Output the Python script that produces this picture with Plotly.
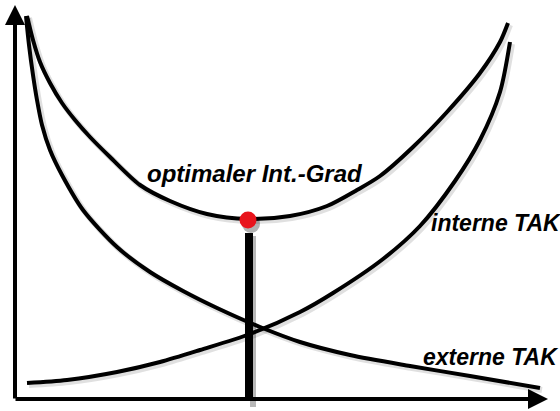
import plotly.graph_objects as go

# ---- data (arbitrary units: Integrationsgrad vs. Kosten) ----
gesamt_x = [12, 18, 25, 35, 47, 60, 75, 95, 125, 155, 192, 233, 275, 312, 342, 365, 398, 432, 465, 485, 493]
gesamt_y = [383, 359, 337, 316, 296, 279, 262, 242, 214, 198, 185, 180, 183, 193, 209, 223, 252, 287, 326, 357, 376]

extern_x = [11, 14, 18, 22, 27, 35, 47, 68, 102, 135, 168, 202, 245, 285, 335, 395, 455, 525]
extern_y = [383, 354, 324, 299, 274, 249, 224, 189, 152, 127, 108, 91, 72, 57, 44, 33, 23, 11]

intern_x = [12, 52, 102, 145, 185, 235, 285, 318, 368, 405, 440, 465, 485, 495]
intern_y = [16, 19, 27, 37, 49, 65, 87, 106, 140, 173, 218, 259, 307, 357]

optimum_x = [233]
optimum_y = [179]
optimum_linie_y = [166, -2]

x_achse = [0, 533]
y_achse = [0, 394]

labels = ["optimaler Int.-Grad", "interne TAK", "externe TAK"]
label_x = [240, 414, 406]
label_y = [226, 176, 42]
label_size = [24, 23, 23]

fig = go.Figure()

shadow = "rgba(0,0,0,0.12)"
curves = [(gesamt_x, gesamt_y), (extern_x, extern_y), (intern_x, intern_y)]
for xs, ys in curves:
    fig.add_trace(go.Scatter(x=[v + 2 for v in xs], y=[v - 2 for v in ys], mode="lines",
                             line=dict(color=shadow, width=6, shape="spline", smoothing=0.8),
                             hoverinfo="skip"))
for xs, ys in curves:
    fig.add_trace(go.Scatter(x=xs, y=ys, mode="lines",
                             line=dict(color="black", width=4, shape="spline", smoothing=0.8)))

# vertical line at optimum with shadow
fig.add_trace(go.Scatter(x=[optimum_x[0] + 5] * 2, y=[optimum_linie_y[0] - 3, optimum_linie_y[1] - 6],
                         mode="lines", line=dict(color="rgba(0,0,0,0.28)", width=6), hoverinfo="skip"))
fig.add_trace(go.Scatter(x=[optimum_x[0] + 1] * 2, y=optimum_linie_y, mode="lines",
                         line=dict(color="black", width=8)))

# axes with arrows
fig.add_annotation(x=x_achse[1], y=0, ax=x_achse[0] - 1, ay=0, xref="x", yref="y", axref="x", ayref="y",
                   text="", showarrow=True, arrowhead=2, arrowsize=1.0, arrowwidth=4, arrowcolor="black")
fig.add_annotation(x=0, y=y_achse[1], ax=0, ay=y_achse[0] - 1, xref="x", yref="y", axref="x", ayref="y",
                   text="", showarrow=True, arrowhead=2, arrowsize=1.0, arrowwidth=4, arrowcolor="black")

# optimum point with shadow
fig.add_trace(go.Scatter(x=[optimum_x[0] + 3], y=[optimum_y[0] - 4], mode="markers",
                         marker=dict(size=18, color="rgba(0,0,0,0.3)"), hoverinfo="skip"))
fig.add_trace(go.Scatter(x=optimum_x, y=optimum_y, mode="markers",
                         marker=dict(size=17, color="#e8141c")))

anchors = ["center", "left", "left"]
for t, xv, yv, a, s in zip(labels, label_x, label_y, anchors, label_size):
    fig.add_annotation(x=xv, y=yv, xref="x", yref="y", text=f"<b><i>{t}</i></b>", showarrow=False,
                       xanchor=a, yanchor="middle",
                       font=dict(family="Liberation Sans, Arial, sans-serif", size=s, color="black"))

fig.update_layout(width=560, height=411, margin=dict(l=0, r=0, t=0, b=0),
                  paper_bgcolor="white", plot_bgcolor="white", showlegend=False,
                  xaxis=dict(range=[-15, 545], visible=False, fixedrange=True),
                  yaxis=dict(range=[-12, 399], visible=False, fixedrange=True))

fig.write_html("out.html", config={"displayModeBar": False},
               post_script="document.body.style.margin='0';document.body.style.overflow='hidden';")
